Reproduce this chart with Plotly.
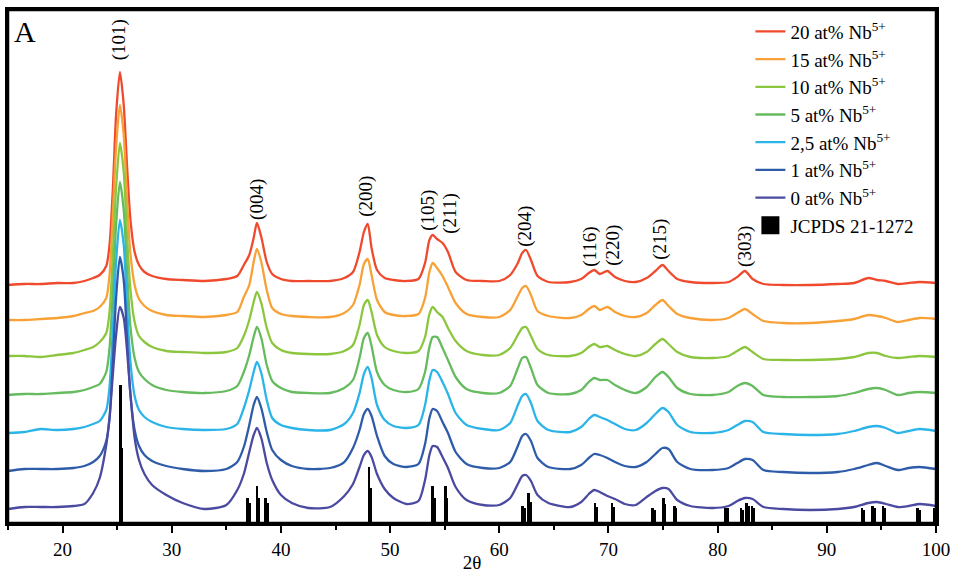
import plotly.graph_objects as go

# 2-theta sampling positions (degrees)
TWO_THETA = [15, 16.5, 18, 19.5, 21, 22, 22.8, 23.4,
             24.0, 24.3, 24.6, 24.9, 25.25, 25.6, 25.9, 26.2, 26.6, 27.0, 27.5, 28.2,
             29.5, 31, 33, 35,
             36.0, 36.6, 37.1, 37.5, 37.8, 38.2, 38.7, 39.2,
             40.0, 41.0, 42.5, 44.5,
             45.8, 46.6, 47.2, 47.6, 47.95, 48.3, 48.8, 49.5,
             50.3, 51.5, 52.6,
             53.2, 53.6, 53.9, 54.3, 54.8, 55.3, 56.0, 57.0,
             58.5, 60.0,
             61.0, 61.7, 62.1, 62.45, 62.9, 63.5, 64.5,
             66.5, 67.5,
             68.2, 68.7, 69.2, 69.9, 70.6, 71.5,
             72.5,
             73.5, 74.3, 74.95, 75.5, 76.3, 77.5,
             79.5, 81.0, 81.8, 82.5, 83.2, 84.2,
             86.0, 88.5, 91.0, 92.5, 93.8, 94.6, 95.4, 96.5, 97.5, 98.5, 100]

SERIES = ["20 at% Nb<sup>5+</sup>", "15 at% Nb<sup>5+</sup>", "10 at% Nb<sup>5+</sup>",
          "5 at% Nb<sup>5+</sup>", "2,5 at% Nb<sup>5+</sup>", "1 at% Nb<sup>5+</sup>",
          "0 at% Nb<sup>5+</sup>"]

# intensities (a.u.) of each pattern on the TWO_THETA positions
I_20 = [0, 1, 1, 2, 2, 4, 7, 10,
        19, 40, 95, 170, 213, 180, 120, 67, 33, 20, 13, 9,
        6, 5, 4, 6,
        9, 20, 30, 47, 62, 48, 23, 11,
        6, 4, 4, 4,
        7, 13, 33, 53, 61, 37, 15, 7,
        5, 4, 6,
        22, 45, 50, 46, 42, 33, 13, 5,
        4, 4,
        10, 22, 32, 35, 25, 9, 3,
        3, 6,
        12, 15, 11, 14, 8, 4,
        3,
        7, 14, 20, 14, 6, 3,
        2, 3, 8, 14, 6, 1,
        0, 0, 1, 2, 7, 5, 4, 1, 2, 3, 2]
I_15 = [3, 3, 4, 5, 7, 10, 12, 16,
        25, 48, 108, 175, 218, 188, 125, 71, 38, 24, 17, 12,
        8, 7, 6, 8,
        11, 26, 38, 61, 74, 61, 33, 15,
        9, 7, 6, 6,
        10, 18, 38, 59, 64, 48, 23, 11,
        8, 7, 9,
        25, 51, 60, 55, 47, 36, 20, 9,
        6, 6,
        13, 27, 35, 37, 28, 12, 7,
        5, 8,
        14, 17, 13, 16, 11, 7,
        6,
        10, 18, 23, 17, 9, 5,
        3, 5, 10, 14, 9, 2,
        0, 0, 2, 4, 8, 7, 5, 1, 3, 5, 4]
I_10 = [4, 4, 3, 5, 7, 10, 13, 18,
        27, 48, 105, 172, 217, 188, 125, 72, 38, 24, 18, 13,
        9, 8, 7, 8,
        12, 24, 40, 58, 68, 57, 32, 17,
        10, 7, 6, 6,
        9, 15, 35, 55, 60, 48, 25, 13,
        9, 7, 9,
        23, 46, 53, 48, 43, 32, 19, 9,
        5, 5,
        12, 25, 32, 33, 24, 11, 5,
        4, 7,
        13, 16, 13, 14, 10, 6,
        4,
        8, 16, 21, 16, 8, 3,
        2, 4, 9, 13, 8, 1,
        0, 0, 1, 3, 7, 7, 4, 2, 3, 4, 3]
I_5 = [2, 3, 3, 4, 5, 7, 10, 13,
       25, 49, 105, 172, 215, 187, 127, 72, 39, 25, 18, 12,
       7, 5, 4, 6,
       11, 25, 42, 60, 70, 59, 32, 16,
       9, 5, 4, 4,
       9, 17, 39, 59, 64, 51, 25, 12,
       7, 5, 8,
       25, 50, 60, 60, 49, 37, 20, 8,
       4, 4,
       11, 29, 39, 40, 29, 12, 4,
       3, 7,
       15, 19, 17, 17, 12, 7,
       4,
       10, 20, 25, 20, 9, 3,
       2, 5, 11, 14, 11, 2,
       0, 0, 1, 4, 8, 9, 7, 2, 4, 5, 4]
I_2_5 = [2, 3, 6, 5, 6, 8, 11, 14,
         25, 48, 105, 173, 215, 190, 130, 75, 39, 25, 18, 13,
         8, 6, 5, 6,
         11, 27, 45, 63, 73, 62, 35, 17,
         10, 7, 5, 5,
         11, 22, 42, 61, 68, 57, 30, 15,
         9, 7, 10,
         30, 55, 65, 63, 53, 41, 22, 10,
         6, 5,
         12, 30, 39, 41, 32, 14, 5,
         3, 8,
         16, 20, 18, 15, 11, 6,
         5,
         12, 21, 27, 23, 10, 3,
         2, 5, 10, 14, 13, 3,
         1, 0, 1, 4, 8, 9, 7, 2, 4, 6, 4]
I_1 = [2, 4, 4, 4, 5, 7, 11, 17,
       32, 55, 111, 175, 216, 193, 136, 80, 43, 27, 18, 12,
       7, 4, 2, 4,
       11, 26, 48, 68, 76, 65, 41, 23,
       13, 7, 4, 5,
       11, 25, 43, 59, 64, 57, 37, 17,
       9, 6, 9,
       29, 55, 64, 62, 51, 40, 21, 9,
       5, 5,
       11, 27, 37, 39, 32, 15, 6,
       4, 8,
       15, 19, 18, 15, 11, 7,
       6,
       11, 19, 25, 24, 11, 4,
       3, 5, 10, 14, 13, 3,
       1, 0, 1, 4, 8, 10, 7, 3, 5, 6, 4]
I_0 = [1, 3, 3, 3, 4, 6, 17, 32,
       65, 92, 135, 175, 203, 192, 160, 118, 72, 50, 36, 25,
       15, 7, 1, 5,
       20, 36, 58, 75, 82, 72, 47, 30,
       15, 7, 2, 3,
       14, 26, 43, 55, 59, 53, 36, 21,
       12, 6, 9,
       30, 55, 64, 63, 53, 42, 23, 10,
       5, 5,
       12, 26, 34, 35, 29, 15, 7,
       3, 8,
       16, 20, 18, 14, 11, 6,
       5,
       13, 19, 22, 21, 10, 4,
       2, 4, 9, 12, 11, 3,
       1, 0, 1, 3, 7, 8, 6, 3, 4, 6, 4]
INTENSITIES = [I_20, I_15, I_10, I_5, I_2_5, I_1, I_0]

# vertical stacking offsets of the patterns
OFFSETS = [238, 200, 163, 126, 88, 50, 13]
COLORS = ["#ef4a2d", "#f7a136", "#8cc63f", "#66bb5e", "#2bb4e8", "#2f5ca9", "#4b4aa1"]

# JCPDS 21-1272 reference lines (main stick and its lower companion column)
JCPDS_POS = [25.28, 36.95, 37.80, 38.58, 48.05, 53.89, 55.06, 62.12, 62.69, 68.76, 70.31,
             74.03, 75.03, 76.02, 80.73, 82.14, 82.66, 83.15, 93.22, 94.18, 95.14, 98.32, 99.80]
JCPDS_INT = [138, 25, 37, 25, 56, 37, 37, 17, 30, 20, 20,
             15, 25, 17, 15, 15, 20, 17, 15, 17, 17, 15, 15]
JCPDS_INT2 = [75, 20, 25, 20, 35, 25, 25, 15, 21, 16, 16,
              13, 19, 15, 15, 13, 17, 15, 13, 15, 15, 13, 13]

HKL_LABELS = ["(101)", "(004)", "(200)", "(105)", "(211)", "(204)", "(116)", "(220)", "(215)", "(303)"]
HKL_X = [25.2, 37.8, 47.77, 53.45, 55.46, 62.34, 68.29, 70.4, 74.7, 82.5]
HKL_Y = [483, 324, 327, 313, 309, 297, 276, 278, 284, 277]

X_TICKS = [20, 30, 40, 50, 60, 70, 80, 90, 100]

FONT = "Liberation Serif"

fig = go.Figure()
for name, ints, off, col in zip(SERIES, INTENSITIES, OFFSETS, COLORS):
    fig.add_trace(go.Scatter(
        x=TWO_THETA, y=[v + off for v in ints], mode="lines", name=name,
        line=dict(color=col, width=2.3, shape="spline", smoothing=0.7),
        hoverinfo="skip"))

fig.add_trace(go.Bar(x=JCPDS_POS, y=JCPDS_INT, width=0.24, marker=dict(color="black", line=dict(width=0)),
                     showlegend=False, hoverinfo="skip"))
fig.add_trace(go.Bar(x=JCPDS_POS, y=JCPDS_INT2, width=0.18, offset=0.1,
                     marker=dict(color="black", line=dict(width=0)),
                     showlegend=False, hoverinfo="skip"))
fig.add_trace(go.Scatter(x=[None], y=[None], mode="markers", name="JCPDS 21-1272",
                         marker=dict(symbol="square", size=16, color="black",
                                     line=dict(color="black", width=2))))

annotations = [dict(x=x, y=y, xref="x", yref="y", text=t, showarrow=False, textangle=-90,
                    xanchor="center", yanchor="middle",
                    font=dict(family=FONT, size=19, color="black"))
               for t, x, y in zip(HKL_LABELS, HKL_X, HKL_Y)]
annotations.append(dict(x=0.004, y=0.958, xref="paper", yref="paper", text="A", showarrow=False,
                        xanchor="left", yanchor="middle",
                        font=dict(family=FONT, size=30, color="black")))

fig.update_layout(
    width=954, height=573,
    margin=dict(l=8, r=18, t=10, b=50, autoexpand=False),
    paper_bgcolor="white", plot_bgcolor="white",
    font=dict(family=FONT, size=19, color="black"),
    showlegend=True,
    barmode="overlay",
    legend=dict(x=0.80, y=0.995, xanchor="left", yanchor="top", bgcolor="rgba(0,0,0,0)",
                font=dict(family=FONT, size=19, color="black")),
    annotations=annotations,
    shapes=[dict(type="rect", xref="paper", yref="paper", x0=0, y0=0, x1=1, y1=1,
                 line=dict(color="black", width=2.5), layer="above")],
    bargap=0,
    xaxis=dict(range=[15, 100], tickvals=X_TICKS, ticks="outside", ticklen=7, tickwidth=2,
               tickcolor="black", showline=True, linewidth=2.5, linecolor="black", mirror=True,
               showgrid=False, zeroline=False, automargin=False,
               minor=dict(dtick=5, tick0=15, ticks="outside", ticklen=4, tickwidth=2, tickcolor="black"),
               title=dict(text="2θ", standoff=4, font=dict(family=FONT, size=19)),
               tickfont=dict(family=FONT, size=19)),
    yaxis=dict(range=[0, 513], showticklabels=False, ticks="", showline=True, linewidth=2.5,
               linecolor="black", mirror=True, showgrid=False, zeroline=False, automargin=False),
)

fig.write_html("out.html")
